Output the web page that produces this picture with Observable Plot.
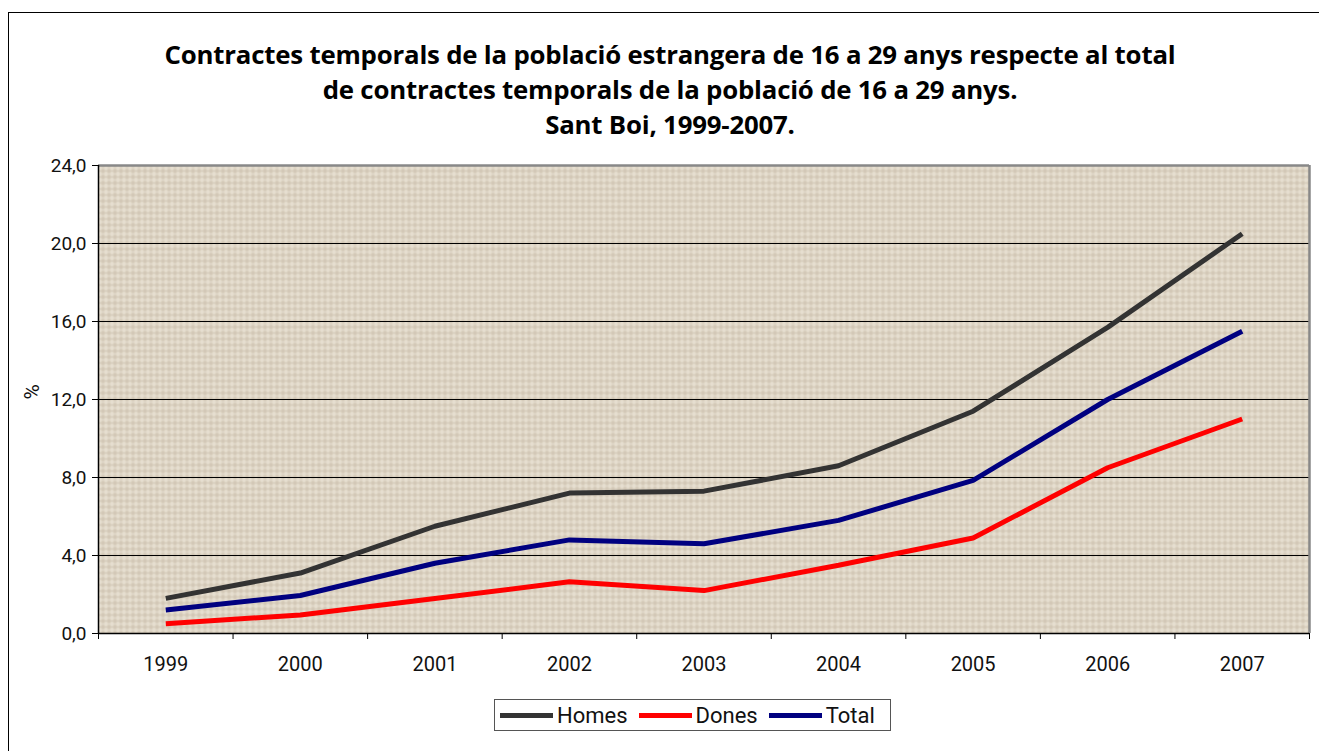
<!DOCTYPE html>
<html>
<head>
<meta charset="utf-8">
<script src="https://cdn.jsdelivr.net/npm/d3@7"></script>
<script src="https://cdn.jsdelivr.net/npm/@observablehq/plot@0.6"></script>
<style>
  html, body { margin: 0; padding: 0; background: #fff; }
  #wrap { position: relative; width: 1319px; height: 751px; overflow: hidden; font-family: Roboto, "Noto Sans", sans-serif; }
  #border { position: absolute; left: 8px; top: 12px; width: 1320px; height: 760px; border: 1.5px solid #000; box-sizing: border-box; }
  #title { position: absolute; left: 0; top: 37px; width: 1340px; text-align: center; font-family: "Open Sans", Roboto, sans-serif; font-weight: 700; font-size: 25.8px; line-height: 35px; color: #000; letter-spacing: -0.2px; }
  #chart { position: absolute; left: 0; top: 150px; }
  #legend { position: absolute; left: 494px; top: 699px; width: 397px; height: 32px; border: 1.5px solid #555; box-sizing: border-box; display: flex; align-items: center; font-size: 22px; color: #111; }
  .item { display: flex; align-items: center; margin-left: 11px; }
  .item:first-child { margin-left: 5px; }
  .sw { width: 53px; height: 5px; margin-right: 4px; }
</style>
</head>
<body>
<div id="wrap">
  <div id="border"></div>
  <div id="title">Contractes temporals de la població estrangera de 16 a 29 anys respecte al total<br>de contractes temporals de la població de 16 a 29 anys.<br>Sant Boi, 1999-2007.</div>
  <div id="chart"></div>
  <div id="legend"></div>
</div>
<script>
const years = [1999, 2000, 2001, 2002, 2003, 2004, 2005, 2006, 2007];
const homes = [1.8, 3.1, 5.5, 7.2, 7.3, 8.6, 11.4, 15.7, 20.5];
const dones = [0.5, 0.95, 1.8, 2.65, 2.2, 3.5, 4.9, 8.5, 11.0];
const total = [1.2, 1.95, 3.6, 4.8, 4.6, 5.8, 7.85, 12.0, 15.5];
const seriesNames = ["Homes", "Dones", "Total"];
const seriesColors = ["#333333", "#ff0000", "#000080"];
const yTicks = [0, 4, 8, 12, 16, 20, 24];
const gridTicks = [4, 8, 12, 16, 20];

const rows = [];
[homes, dones, total].forEach((arr, i) => {
  years.forEach((yr, j) => rows.push({year: yr, value: arr[j], series: seriesNames[i]}));
});
const boundaries = years.map(y => y - 0.5).concat([years[years.length - 1] + 0.5]);
const fmt = d => d3.format(".1f")(d).replace(".", ",");

const plot = Plot.plot({
  width: 1319,
  height: 540,
  marginTop: 15,
  marginLeft: 98,
  marginRight: 10,
  marginBottom: 57,
  style: { fontFamily: "Roboto, 'Noto Sans', sans-serif", fontSize: "19px", color: "#111", background: "transparent", overflow: "visible" },
  x: { type: "linear", domain: [1998.5, 2007.5], axis: null },
  y: { domain: [0, 24], axis: null },
  color: { domain: seriesNames, range: seriesColors },
  marks: [
    Plot.frame({ fill: "#ddd4c3", stroke: "none" }),
    Plot.ruleY(gridTicks, { stroke: "#000", strokeWidth: 1 }),
    Plot.ruleY([24], { stroke: "#888", strokeWidth: 2.5 }),
    Plot.ruleX([2007.5], { stroke: "#888", strokeWidth: 2.5 }),
    Plot.line(rows, { x: "year", y: "value", z: "series", stroke: "series", strokeWidth: 5, strokeLinejoin: "miter", strokeLinecap: "butt" }),
    Plot.ruleY([0], { stroke: "#000", strokeWidth: 1.5 }),
    Plot.ruleX([1998.5], { stroke: "#000", strokeWidth: 1.5 }),
    Plot.axisY(yTicks, { label: null, tickSize: 6, tickPadding: 6, tickFormat: fmt, stroke: "#000", fontSize: 19 }),
    Plot.axisX(boundaries, { label: null, tickSize: 6, tickFormat: () => "", stroke: "#000" }),
    Plot.axisX(years, { label: null, tickSize: 0, tickPadding: 23, tickFormat: d => String(d), fontSize: 20 }),
    Plot.text(["%"], { frameAnchor: "left", dx: -66, rotate: -90, fontSize: 21 })
  ]
});

// subtle woven texture for the plot background
const ns = "http://www.w3.org/2000/svg";
const defs = document.createElementNS(ns, "defs");
defs.innerHTML = `<pattern id="weave" width="6" height="6" patternUnits="userSpaceOnUse">
  <rect width="6" height="6" fill="#ddd4c3"/>
  <rect x="0" y="0" width="1" height="6" fill="#cbbfae" opacity="0.7"/>
  <rect x="3" y="0" width="1" height="6" fill="#efe9dd" opacity="0.7"/>
  <rect x="0" y="2" width="6" height="1" fill="#c9bdab" opacity="0.6"/>
  <rect x="0" y="5" width="6" height="1" fill="#ece6da" opacity="0.6"/>
</pattern>`;
plot.insertBefore(defs, plot.firstChild);
plot.querySelectorAll("[aria-label='frame']").forEach(el => {
  if (el.tagName === "rect") el.setAttribute("fill", "url(#weave)");
  el.querySelectorAll && el.querySelectorAll("rect").forEach(r => r.setAttribute("fill", "url(#weave)"));
});
document.getElementById("chart").appendChild(plot);

const legend = document.getElementById("legend");
seriesNames.forEach((n, i) => {
  const it = document.createElement("div");
  it.className = "item";
  it.innerHTML = `<div class="sw" style="background:${seriesColors[i]}"></div><span>${n}</span>`;
  legend.appendChild(it);
});
</script>
</body>
</html>
